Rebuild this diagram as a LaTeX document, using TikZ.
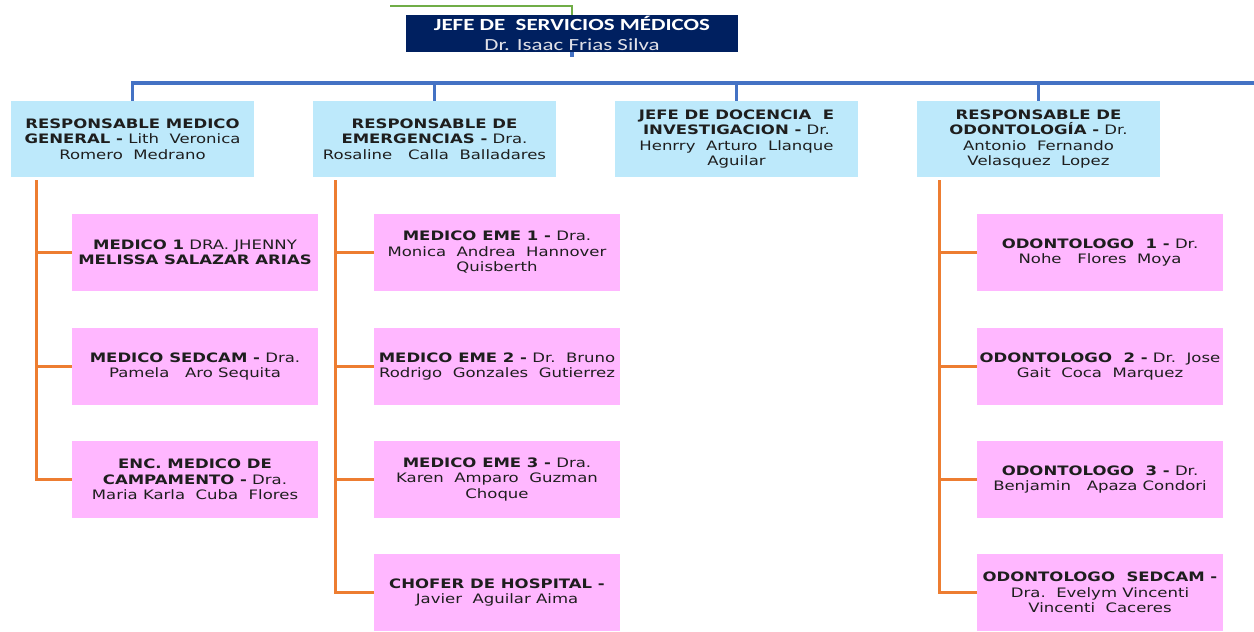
\documentclass[tikz,border=0pt]{standalone}
\usepackage{fontspec}
\setmainfont{DejaVu Sans}[FakeStretch=1.27]
\newfontfamily\jefefont{Carlito}[FakeStretch=1.35]
\usepackage{tikz}
\definecolor{azuljefe}{RGB}{0,32,96}
\definecolor{celeste}{RGB}{189,233,251}
\definecolor{rosado}{RGB}{255,183,255}
\definecolor{naranja}{RGB}{237,125,49}
\definecolor{azulbus}{RGB}{68,114,196}
\definecolor{verdeline}{RGB}{112,173,71}
\definecolor{grisclaro}{RGB}{225,225,232}
\definecolor{texto}{RGB}{30,30,30}

\begin{document}
\begin{tikzpicture}[x=1pt,y=-1pt,
	jefebox/.style={fill=azuljefe,minimum width=332pt,minimum height=37pt,inner sep=0pt,align=center,text=white,font=\jefefont\fontsize{17}{20}\selectfont},
	respbox/.style={fill=celeste,minimum width=243pt,minimum height=76pt,inner sep=0pt,align=center,text=texto,font=\fontsize{13}{15.5}\selectfont},
	medbox/.style={fill=rosado,minimum width=246pt,minimum height=77pt,inner sep=0pt,align=center,text=texto,font=\fontsize{13}{15.5}\selectfont},
	busline/.style={azulbus,line width=3.5pt},
	ramaline/.style={naranja,line width=3pt},
	greenline/.style={verdeline,line width=2pt}]
		\useasboundingbox (0,0) rectangle (1254,632);
		\node[jefebox] (jefe) at (572,33.5) {\textbf{JEFE DE\ \ SERVICIOS MÉDICOS}\\{\color{grisclaro}Dr. Isaac Frias Silva}};
		\coordinate (gl) at (390,6);
		\draw[greenline] (gl) -| (jefe.north);
		\draw[busline] (jefe.south) -- ++(0,5);
		\node[respbox] (rgen) at (132.5,139) {\textbf{RESPONSABLE MEDICO}\\\textbf{GENERAL -} Lith\ \ Veronica\\Romero\ \ Medrano};
		\node[respbox] (remg) at (434.5,139) {\textbf{RESPONSABLE DE}\\\textbf{EMERGENCIAS -} Dra.\\Rosaline\ \ \ Calla\ \ Balladares};
		\node[respbox] (rdoc) at (736.5,139) {\textbf{JEFE DE DOCENCIA\ \ E}\\\textbf{INVESTIGACION -} Dr.\\Henrry\ \ Arturo\ \ Llanque\\Aguilar};
		\node[respbox] (rodo) at (1038.5,139) {\textbf{RESPONSABLE DE}\\\textbf{ODONTOLOGÍA -} Dr.\\Antonio\ \ Fernando\\Velasquez\ \ Lopez};
		\coordinate (busR) at (1254,83);
		\draw[busline] (rgen.north) -- (rgen.north |- busR) -- (busR);
		\draw[busline] (remg.north) -- (remg.north |- busR);
		\draw[busline] (rdoc.north) -- (rdoc.north |- busR);
		\draw[busline] (rodo.north) -- (rodo.north |- busR);
		\node[medbox] (mg1) at (195,252.5) {\textbf{MEDICO 1} DRA. JHENNY\\\textbf{MELISSA SALAZAR ARIAS}};
		\node[medbox] (mg2) at (195,366.5) {\textbf{MEDICO SEDCAM -} Dra.\\Pamela\ \ \ Aro Sequita};
		\node[medbox] (mg3) at (195,479.5) {\textbf{ENC. MEDICO DE}\\\textbf{CAMPAMENTO -} Dra.\\Maria Karla\ \ Cuba\ \ Flores};
		\node[medbox] (me1) at (497,252.5) {\textbf{MEDICO EME 1 -} Dra.\\Monica\ \ Andrea\ \ Hannover\\Quisberth};
		\node[medbox] (me2) at (497,366.5) {\textbf{MEDICO EME 2 -} Dr.\ \ Bruno\\Rodrigo\ \ Gonzales\ \ Gutierrez};
		\node[medbox] (me3) at (497,479.5) {\textbf{MEDICO EME 3 -} Dra.\\Karen\ \ Amparo\ \ Guzman\\Choque};
		\node[medbox] (me4) at (497,592.5) {\textbf{CHOFER DE HOSPITAL -}\\Javier\ \ Aguilar Aima};
		\node[medbox] (od1) at (1100,252.5) {\textbf{ODONTOLOGO\ \ 1 -} Dr.\\Nohe\ \ \ Flores\ \ Moya};
		\node[medbox] (od2) at (1100,366.5) {\textbf{ODONTOLOGO\ \ 2 -} Dr.\ \ Jose\\Gait\ \ Coca\ \ Marquez};
		\node[medbox] (od3) at (1100,479.5) {\textbf{ODONTOLOGO\ \ 3 -} Dr.\\Benjamin\ \ \ Apaza Condori};
		\node[medbox] (od4) at (1100,592.5) {\textbf{ODONTOLOGO\ \ SEDCAM -}\\Dra.\ \ Evelym Vincenti\\Vincenti\ \ Caceres};
		\coordinate (tg) at (36,180);
		\coordinate (te) at (335,180);
		\coordinate (to) at (939,180);
		\draw[ramaline] (tg) |- (mg3.west);
		\draw[ramaline] (mg1.west) -- (mg1.west -| tg);
		\draw[ramaline] (mg2.west) -- (mg2.west -| tg);
		\draw[ramaline] (te) |- (me4.west);
		\draw[ramaline] (me1.west) -- (me1.west -| te);
		\draw[ramaline] (me2.west) -- (me2.west -| te);
		\draw[ramaline] (me3.west) -- (me3.west -| te);
		\draw[ramaline] (to) |- (od4.west);
		\draw[ramaline] (od1.west) -- (od1.west -| to);
		\draw[ramaline] (od2.west) -- (od2.west -| to);
		\draw[ramaline] (od3.west) -- (od3.west -| to);
\end{tikzpicture}
\end{document}
